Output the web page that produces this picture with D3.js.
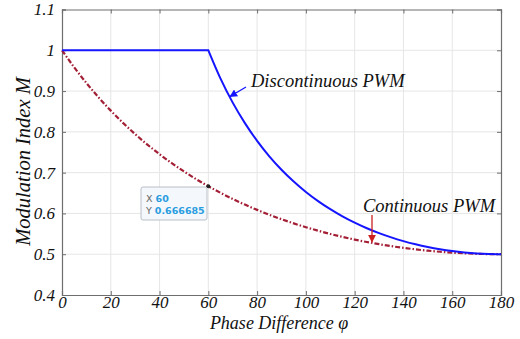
<!DOCTYPE html>
<html><head><meta charset="utf-8">
<script src="https://cdn.jsdelivr.net/npm/d3@7/dist/d3.min.js"></script>
<style>
html,body{margin:0;padding:0;background:#fff;}
svg{display:block;}
.serif{font-family:"Liberation Serif","Times New Roman",serif;font-style:italic;}
</style></head>
<body>
<svg id="chart" width="520" height="339"></svg>
<script>
const phase = [0,5,10,15,20,25,30,35,40,45,50,55,60,65,70,75,80,85,90,95,100,105,110,115,120,125,130,135,140,145,150,155,160,165,170,175,180];
const discontinuous = [1,1,1,1,1,1,1,1,1,1,1,1,1,0.93058,0.87172,0.82133,0.77786,0.74010,0.70711,0.67817,0.65270,0.63024,0.61039,0.59285,0.57735,0.56369,0.55169,0.54120,0.53209,0.52426,0.51764,0.51214,0.50771,0.50431,0.50191,0.50048,0.5];
const continuous = [1,0.95820,0.91983,0.88454,0.85204,0.82207,0.79440,0.76881,0.74514,0.72323,0.70293,0.68411,0.66667,0.65049,0.63550,0.62160,0.60872,0.59681,0.58579,0.57561,0.56624,0.55762,0.54970,0.54248,0.53590,0.52994,0.52458,0.51978,0.51555,0.51185,0.50867,0.50600,0.50383,0.50215,0.50095,0.50024,0.5];
const xTicks = [0,20,40,60,80,100,120,140,160,180];
const yTicks = [0.4,0.5,0.6,0.7,0.8,0.9,1,1.1];
const yTickLabels = ["0.4","0.5","0.6","0.7","0.8","0.9","1","1.1"];
const datatip = {x: 60, y: 0.666685};

const svg = d3.select("#chart");
const L = 62, R = 501, T = 9.5, B = 295;
const x = d3.scaleLinear().domain([0,180]).range([L,R]);
const y = d3.scaleLinear().domain([0.4,1.1]).range([B,T]);

// grid
const g = svg.append("g");
g.selectAll(".vg").data(xTicks.slice(1,-1)).enter().append("line")
  .attr("x1",d=>x(d)).attr("x2",d=>x(d)).attr("y1",T).attr("y2",B)
  .attr("stroke","#e6e6e6").attr("stroke-width",1);
g.selectAll(".hg").data(yTicks.slice(1,-1)).enter().append("line")
  .attr("x1",L).attr("x2",R).attr("y1",d=>y(d)).attr("y2",d=>y(d))
  .attr("stroke","#e6e6e6").attr("stroke-width",1);

// axes
const xAxis = d3.axisBottom(x).tickValues(xTicks).tickSize(-4).tickPadding(1).tickFormat(d3.format("d"));
const yAxis = d3.axisLeft(y).tickValues(yTicks).tickSize(-4).tickPadding(7).tickFormat((d,i)=>yTickLabels[i]);
const xTop = d3.axisTop(x).tickValues(xTicks).tickSize(-4).tickFormat("");
const yRight = d3.axisRight(y).tickValues(yTicks).tickSize(-4).tickFormat("");

function style(sel){
  sel.attr("font-family",null).attr("font-size",null);
  sel.select(".domain").attr("stroke","#6e6e6e").attr("stroke-width",1.2);
  sel.selectAll(".tick line").attr("stroke","#6e6e6e");
  sel.selectAll(".tick text").attr("class","serif").attr("fill","#111").style("font-size","17px");
}
svg.append("g").attr("transform",`translate(0,${B})`).call(xAxis).call(style);
svg.append("g").attr("transform",`translate(${L},0)`).call(yAxis).call(style);
svg.append("g").attr("transform",`translate(0,${T})`).call(xTop).call(style);
svg.append("g").attr("transform",`translate(${R},0)`).call(yRight).call(style);

// lines
const pts1 = phase.map((p,i)=>[p,discontinuous[i]]);
const pts2 = phase.map((p,i)=>[p,continuous[i]]);
const flat = pts1.filter(d=>d[0]<=60);
const fall = pts1.filter(d=>d[0]>=60);
const smooth = d3.line().x(d=>x(d[0])).y(d=>y(d[1])).curve(d3.curveMonotoneX);
const straight = d3.line().x(d=>x(d[0])).y(d=>y(d[1]));
svg.append("path").attr("d",smooth(pts2)).attr("fill","none")
  .attr("stroke","#a31f35").attr("stroke-width",2.2).attr("stroke-dasharray","5,2,1.5,2");
svg.append("path").attr("d",straight(flat)+smooth(fall).replace(/^M/,"L")).attr("fill","none")
  .attr("stroke","#1515ff").attr("stroke-width",2).attr("stroke-linejoin","miter");

// arrows
const defs = svg.append("defs");
function marker(id,color){
  defs.append("marker").attr("id",id).attr("viewBox","0 0 10 10").attr("refX",9).attr("refY",5)
    .attr("markerWidth",6).attr("markerHeight",6).attr("orient","auto")
    .append("path").attr("d","M0,0 L10,5 L0,10 z").attr("fill",color);
}
marker("ab","#1515ff");
marker("ar","#cc1f1f");
svg.append("line").attr("x1",246).attr("y1",87).attr("x2",230).attr("y2",96.5)
  .attr("stroke","#1515ff").attr("stroke-width",1.3).attr("marker-end","url(#ab)");
svg.append("line").attr("x1",372).attr("y1",215).attr("x2",372).attr("y2",242)
  .attr("stroke","#cc1f1f").attr("stroke-width",1.3).attr("marker-end","url(#ar)");

svg.append("text").attr("class","serif").attr("x",251).attr("y",87).text("Discontinuous PWM")
  .style("font-size","18.5px").attr("fill","#111");
svg.append("text").attr("class","serif").attr("x",363).attr("y",212).text("Continuous PWM")
  .style("font-size","18.5px").attr("fill","#111");

// axis titles
svg.append("text").attr("class","serif").attr("x",279).attr("y",328.5).attr("text-anchor","middle").text("Phase Difference φ")
  .style("font-size","18px").attr("fill","#111");
svg.append("text").attr("class","serif").attr("transform",`translate(30,161.5) rotate(-90)`).attr("text-anchor","middle").text("Modulation Index M")
  .style("font-size","20.5px").attr("fill","#111");

// datatip
svg.append("circle").attr("cx",x(datatip.x)).attr("cy",y(datatip.y)).attr("r",2).attr("fill","#222");
svg.append("rect").attr("x",141).attr("y",187).attr("width",66).attr("height",33).attr("rx",2)
  .attr("fill","#f4f7fb").attr("stroke","#b9c0c8").attr("stroke-width",1);
const tipFont = "'DejaVu Sans','Noto Sans',sans-serif";
const t1 = svg.append("text").attr("x",146).attr("y",202).style("font-family",tipFont).style("font-size","9.5px");
t1.append("tspan").attr("fill","#666").text("X ");
t1.append("tspan").attr("fill","#2a9de0").attr("font-weight","bold").text(String(datatip.x));
const t2 = svg.append("text").attr("x",146).attr("y",214).style("font-family",tipFont).style("font-size","9.5px");
t2.append("tspan").attr("fill","#666").text("Y ");
t2.append("tspan").attr("fill","#2a9de0").attr("font-weight","bold").text(String(datatip.y));
</script>
</body></html>
